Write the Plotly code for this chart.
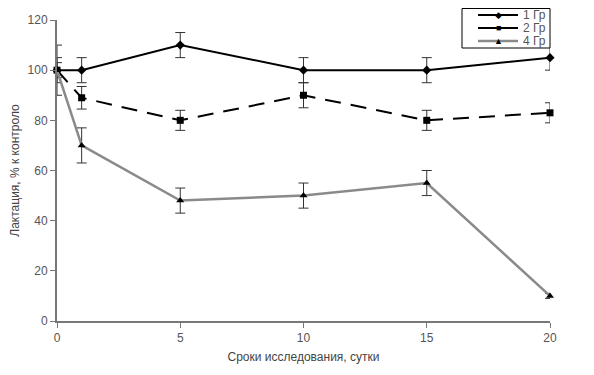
import plotly.graph_objects as go

days = [0, 1, 5, 10, 15, 20]
g1 = [100, 100, 110, 100, 100, 105]
g1_err = [10, 5, 5, 5, 5, 5]
g2 = [100, 89, 80, 90, 80, 83]
g2_err = [5, 4.5, 4, 5, 4, 4]
g4 = [100, 70, 48, 50, 55, 10]
g4_err = [3, 7, 5, 5, 5, 1]
names = ["1 Гр", "2 Гр", "4 Гр"]

styles = [
    dict(line=dict(color="black", width=2), symbol="diamond", glyph="◆"),
    dict(line=dict(color="black", width=2, dash="16px,10px"), symbol="square", glyph="■"),
    dict(line=dict(color="#8a8a8a", width=2.5), symbol="triangle-up", glyph="▲"),
]
series = [(g1, g1_err), (g2, g2_err), (g4, g4_err)]

fig = go.Figure()
for (ys, errs), name, st in zip(series, names, styles):
    fig.add_trace(go.Scatter(
        x=days, y=ys, name=name, mode="lines+markers",
        line=st["line"],
        marker=dict(symbol=st["symbol"], size=7, color="black"),
        error_y=dict(type="data", array=errs, color="#333", thickness=1, width=5),
        cliponaxis=False, showlegend=False,
    ))

# custom compact legend (paper coordinates derived from pixel layout)
W, H = 586, 367
L, R, T, B = 49, 44, 12, 54
pw, ph = W - L - R, H - T - B
def px(x):
    return (x - L) / pw
def py(y):
    return (H - B - y) / ph

fnt = "Liberation Sans, Arial, sans-serif"
shapes = [dict(type="rect", xref="paper", yref="paper",
               x0=px(454), x1=px(542), y0=py(40), y1=py(0.5),
               line=dict(color="black", width=1), fillcolor="white", layer="above")]
annotations = []
for i, (name, st) in enumerate(zip(names, styles)):
    yy = 7 + i * 13
    ln = dict(st["line"])
    if "dash" in ln:
        ln["dash"] = "solid"
    shapes.append(dict(type="line", xref="paper", yref="paper",
                       x0=px(470), x1=px(510), y0=py(yy), y1=py(yy),
                       line=ln, layer="above"))
    annotations.append(dict(xref="paper", yref="paper", x=px(490), y=py(yy),
                            text=st["glyph"], showarrow=False,
                            font=dict(size=9, color="black"),
                            xanchor="center", yanchor="middle"))
    annotations.append(dict(xref="paper", yref="paper", x=px(513), y=py(yy),
                            text=name, showarrow=False,
                            font=dict(family=fnt, size=12, color="#555"),
                            xanchor="left", yanchor="middle"))

fig.update_layout(
    width=W, height=H,
    margin=dict(l=L, r=R, t=T, b=B, autoexpand=False),
    plot_bgcolor="white", paper_bgcolor="white",
    font=dict(family=fnt, size=12, color="#555"),
    showlegend=False,
    shapes=shapes,
    annotations=annotations,
    xaxis=dict(
        range=[0, 20], tickvals=[0, 5, 10, 15, 20],
        showgrid=False, zeroline=False, automargin=False,
        showline=True, linecolor="#777", linewidth=2,
        ticks="outside", ticklen=5, tickcolor="#777",
        title=dict(text="Сроки исследования, сутки", standoff=8,
                   font=dict(family=fnt, size=12, color="#444")),
    ),
    yaxis=dict(
        range=[0, 120], tickvals=[0, 20, 40, 60, 80, 100, 120],
        showgrid=False, zeroline=False, automargin=False,
        showline=True, linecolor="#777", linewidth=2,
        ticks="outside", ticklen=5, tickcolor="#777",
        title=dict(text="Лактация, % к контроло", standoff=14,
                   font=dict(family=fnt, size=12, color="#444")),
    ),
)

fig.write_html("out.html")
